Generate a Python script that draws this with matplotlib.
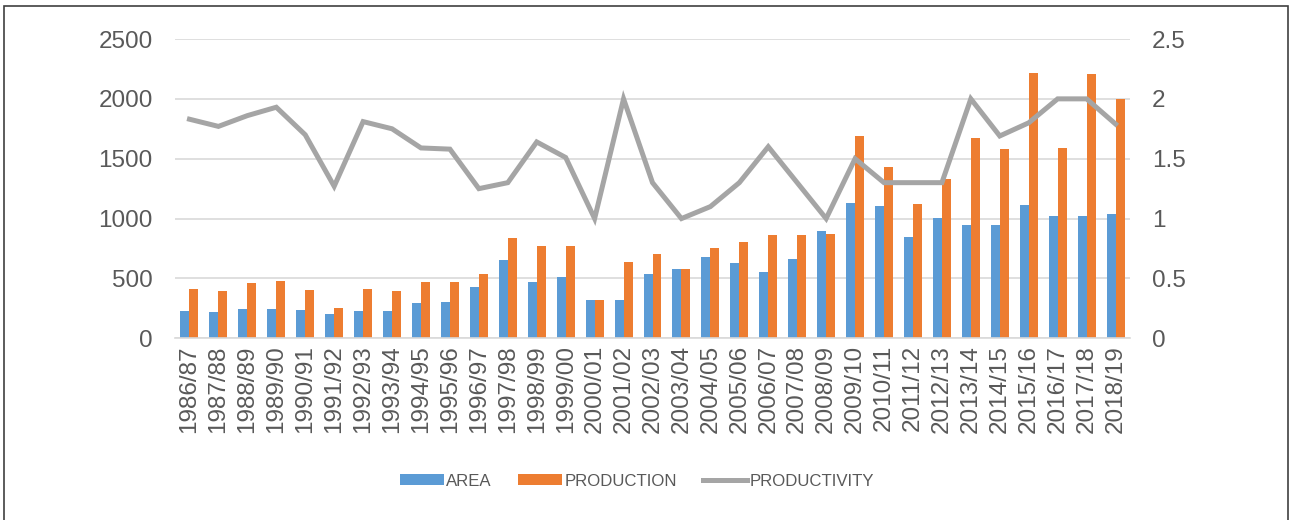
import matplotlib
matplotlib.use("Agg")
import matplotlib.pyplot as plt
import numpy as np
from matplotlib.lines import Line2D
from matplotlib.patches import Patch, Rectangle

seasons = [
    "1986/87", "1987/88", "1988/89", "1989/90", "1990/91", "1991/92", "1992/93",
    "1993/94", "1994/95", "1995/96", "1996/97", "1997/98", "1998/99", "1999/00",
    "2000/01", "2001/02", "2002/03", "2003/04", "2004/05", "2005/06", "2006/07",
    "2007/08", "2008/09", "2009/10", "2010/11", "2011/12", "2012/13", "2013/14",
    "2014/15", "2015/16", "2016/17", "2017/18", "2018/19",
]
area = [
    227, 216, 244, 244, 236, 200, 227, 227, 291, 302, 430, 652, 469, 513,
    319, 319, 541, 580, 680, 625, 552, 663, 894, 1133, 1108, 847, 1005,
    950, 950, 1117, 1022, 1022, 1042,
]
production = [
    413, 394, 458, 477, 402, 255, 413, 394, 469, 469, 541, 838, 775, 775,
    319, 636, 708, 580, 755, 802, 866, 866, 875, 1691, 1430, 1125, 1327,
    1672, 1580, 2219, 1589, 2208, 2000,
]
productivity = [
    1.83, 1.77, 1.86, 1.93, 1.70, 1.27, 1.81, 1.75, 1.59, 1.58, 1.25, 1.30,
    1.64, 1.51, 1.00, 2.00, 1.30, 1.00, 1.10, 1.30, 1.60, 1.30, 1.00, 1.50,
    1.30, 1.30, 1.30, 2.00, 1.69, 1.80, 2.00, 2.00, 1.79,
]

BLUE = "#5B9BD5"
ORANGE = "#ED7D31"
GREY = "#A5A5A5"
TEXT = "#595959"
GRID = "#D9D9D9"

plt.rcParams["font.family"] = ["Liberation Sans", "DejaVu Sans"]

fig = plt.figure(figsize=(12.9, 5.2), dpi=100)
ax = fig.add_axes([175 / 1290, 1 - 338.3 / 520, 955 / 1290, 299.3 / 520])

x = np.arange(len(seasons))
w = 0.31
ax.bar(x - w / 2, area, width=w, color=BLUE, zorder=2)
ax.bar(x + w / 2, production, width=w, color=ORANGE, zorder=2)

ax.set_xlim(-0.5, len(seasons) - 0.5)
ax.set_ylim(0, 2500)
ax.set_yticks(range(0, 2501, 500))
ax.yaxis.grid(True, color=GRID, linewidth=1.2, zorder=0)
ax.set_axisbelow(True)
ax.set_xticks(x)
ax.set_xticklabels(seasons, rotation=90)
ax.tick_params(axis="both", length=0, labelsize=17.5, labelcolor=TEXT)
ax.tick_params(axis="y", pad=16)
ax.tick_params(axis="x", pad=5)
for side in ("top", "left", "right"):
    ax.spines[side].set_visible(False)
ax.spines["bottom"].set_color(GRID)
ax.spines["bottom"].set_linewidth(1.2)

ax2 = ax.twinx()
ax2.plot(x, productivity, color=GREY, linewidth=3.6, solid_joinstyle="miter", zorder=3)
ax2.set_ylim(0, 2.5)
ax2.set_yticks([0, 0.5, 1, 1.5, 2, 2.5])
ax2.set_yticklabels(["0", "0.5", "1", "1.5", "2", "2.5"])
ax2.tick_params(axis="y", length=0, labelsize=17.5, labelcolor=TEXT, pad=16)
for side in ("top", "left", "right", "bottom"):
    ax2.spines[side].set_visible(False)

handles = [
    Patch(facecolor=BLUE, label="AREA"),
    Patch(facecolor=ORANGE, label="PRODUCTION"),
    Line2D([], [], color=GREY, linewidth=3.6, label="PRODUCTIVITY"),
]
fig.legend(
    handles=handles, loc="center", bbox_to_anchor=(637 / 1290, 1 - 481 / 520),
    ncol=3, frameon=False, fontsize=12.1, labelcolor=TEXT,
    handlelength=2.62, handleheight=0.6, handletextpad=0.15, columnspacing=1.55,
)

# thin frame around the chart
fig.patches.append(Rectangle(
    (4 / 1290, -0.1), 1284 / 1290, 1.1 - 6 / 520, transform=fig.transFigure,
    fill=False, edgecolor="#404040", linewidth=1.2,
))

fig.savefig("out.png", dpi=100)
